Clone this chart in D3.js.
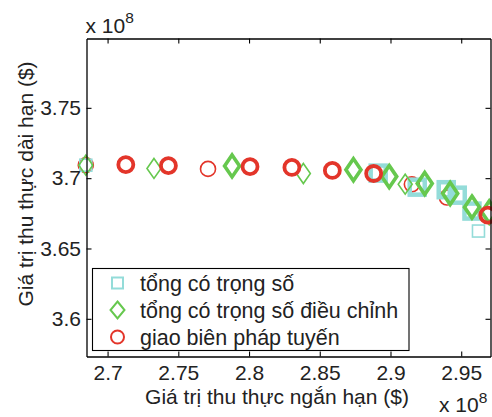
<!DOCTYPE html>
<html><head><meta charset="utf-8">
<script src="https://cdn.jsdelivr.net/npm/d3@7"></script>
<style>
html,body{margin:0;padding:0;background:#fff;}
svg{display:block;font-family:"Liberation Sans",Arial,sans-serif;}
</style></head>
<body>
<svg id="chart" width="492" height="417"></svg>
<script>
// Values in units of 1e8 $
const xTicks = [2.7, 2.75, 2.8, 2.85, 2.9, 2.95];
const yTicks = [3.6, 3.65, 3.7, 3.75];
const xDomain = [2.6851, 2.9707];
const yDomain = [3.5732, 3.7993];

// "tổng có trọng số" (weighted sum)
const wsThinX = [2.6846, 2.9622];
const wsThinY = [3.7092, 3.6624];
const wsBoldX = [2.8913, 2.9189, 2.9394, 2.9472, 2.9576];
const wsBoldY = [3.7036, 3.6936, 3.6918, 3.6879, 3.6766];

// "tổng có trọng số điều chỉnh" (adjusted weighted sum)
const awsThinX = [2.6846, 2.7328, 2.8384, 2.9104];
const awsThinY = [3.7092, 3.7069, 3.7033, 3.6957];
const awsBoldX = [2.7880, 2.8738, 2.8991, 2.9242, 2.9422, 2.9576, 2.9698];
const awsBoldY = [3.7087, 3.7060, 3.7011, 3.6962, 3.6891, 3.6794, 3.6759];

// "giao biên pháp tuyến" (normal boundary intersection)
const nbiThinX = [2.6846, 2.7710, 2.9151, 2.9399];
const nbiThinY = [3.7092, 3.7066, 3.6956, 3.6862];
const nbiBoldX = [2.7129, 2.7430, 2.8007, 2.8303, 2.8589, 2.8881, 2.9688];
const nbiBoldY = [3.7096, 3.7089, 3.7082, 3.7076, 3.7055, 3.7033, 3.6737];

const legendLabels = ["tổng có trọng số", "tổng có trọng số điều chỉnh", "giao biên pháp tuyến"];

(function () {
const RED = "#e3352a", GREEN = "#66c84e", CYAN = "#94dcd9";
const FONT = 21;

const svg = d3.select("#chart");
const m = {left: 86.5, right: 1.5, top: 38.5, bottom: 60.5};
const W = 492, H = 417;
const x = d3.scaleLinear().domain(xDomain).range([m.left, W - m.right]);
const y = d3.scaleLinear().domain(yDomain).range([H - m.bottom, m.top]);

const zip = (a, b) => a.map((v, i) => [v, b[i]]);

const plot = svg.append("g");

function squares(pts, half, sw) {
  plot.append("g").selectAll("rect").data(pts).join("rect")
    .attr("x", d => x(d[0]) - half).attr("y", d => y(d[1]) - half)
    .attr("width", half * 2).attr("height", half * 2)
    .attr("fill", "none").attr("stroke", CYAN).attr("stroke-width", sw);
}
function diamonds(pts, hw, hh, sw) {
  plot.append("g").selectAll("path").data(pts).join("path")
    .attr("d", d => { const cx = x(d[0]), cy = y(d[1]);
      return `M${cx},${cy - hh}L${cx + hw},${cy}L${cx},${cy + hh}L${cx - hw},${cy}Z`; })
    .attr("fill", "none").attr("stroke", GREEN).attr("stroke-width", sw).attr("stroke-linejoin", "miter");
}
function circles(pts, r, sw) {
  plot.append("g").selectAll("circle").data(pts).join("circle")
    .attr("cx", d => x(d[0])).attr("cy", d => y(d[1])).attr("r", r)
    .attr("fill", "none").attr("stroke", RED).attr("stroke-width", sw);
}

circles(zip(nbiThinX, nbiThinY), 7.5, 1.6);
squares(zip(wsThinX, wsThinY), 6, 1.6);
squares(zip(wsBoldX, wsBoldY), 7.5, 4.5);
diamonds(zip(awsThinX, awsThinY), 7, 10, 1.6);
diamonds(zip(awsBoldX, awsBoldY), 7.5, 11, 3.6);
circles(zip(nbiBoldX, nbiBoldY), 7.5, 3.8);

// Axes (box with inward ticks)
const axG = svg.append("g").attr("font-size", FONT);
axG.append("g").attr("transform", `translate(0,${H - m.bottom})`)
  .call(d3.axisBottom(x).tickValues(xTicks).tickFormat(d3.format("")).tickSizeInner(-5).tickSizeOuter(0).tickPadding(8.5));
axG.append("g").attr("transform", `translate(${m.left},0)`)
  .call(d3.axisLeft(y).tickValues(yTicks).tickFormat(d3.format("")).tickSizeInner(-5).tickSizeOuter(0).tickPadding(5.5));
axG.append("g").attr("transform", `translate(0,${m.top})`)
  .call(d3.axisTop(x).tickValues(xTicks).tickFormat("").tickSizeInner(-5).tickSizeOuter(0));
axG.append("g").attr("transform", `translate(${W - m.right},0)`)
  .call(d3.axisRight(y).tickValues(yTicks).tickFormat("").tickSizeInner(-5).tickSizeOuter(0));
axG.selectAll("text").attr("font-family", "Liberation Sans, Arial, sans-serif").attr("font-size", FONT).attr("fill", "#222");
axG.selectAll(".domain").attr("stroke", "#000").attr("stroke-width", 1.3);
axG.selectAll(".tick line").attr("stroke", "#000").attr("stroke-width", 1.1);

// Axis titles
svg.append("text").attr("x", 277).attr("y", 404).attr("text-anchor", "middle")
  .attr("font-size", FONT).attr("fill", "#222").text("Giá trị thu thực ngắn hạn ($)");
svg.append("text").attr("transform", "translate(33,184) rotate(-90)").attr("text-anchor", "middle")
  .attr("font-size", FONT).attr("fill", "#222").text("Giá trị thu thực dài hạn ($)");

// Exponent labels
function expLabel(xp, yp, ey) {
  const t = svg.append("text").attr("x", xp).attr("y", yp).attr("font-size", FONT).attr("fill", "#222");
  t.append("tspan").text("x 10");
  t.append("tspan").attr("font-size", 15.5).attr("dy", ey).text("8");
}
expLabel(85.5, 33, -10);
expLabel(439, 411.5, -9);

// Legend
const lg = svg.append("g");
lg.append("rect").attr("x", 92.5).attr("y", 268.5).attr("width", 316.5).attr("height", 82)
  .attr("fill", "#fff").attr("stroke", "#000").attr("stroke-width", 1.1);
const rowY = [283, 310, 337];
const mx = 117.5;
lg.append("rect").attr("x", mx - 5.5).attr("y", rowY[0] - 5.5).attr("width", 11).attr("height", 11)
  .attr("fill", "none").attr("stroke", CYAN).attr("stroke-width", 2);
lg.append("path").attr("d", `M${mx},${rowY[1] - 8.5}L${mx + 7},${rowY[1]}L${mx},${rowY[1] + 8.5}L${mx - 7},${rowY[1]}Z`)
  .attr("fill", "none").attr("stroke", GREEN).attr("stroke-width", 2);
lg.append("circle").attr("cx", mx).attr("cy", rowY[2]).attr("r", 6.5)
  .attr("fill", "none").attr("stroke", RED).attr("stroke-width", 2);
lg.selectAll("text.lt").data(legendLabels).join("text").attr("class", "lt")
  .attr("x", 140).attr("y", (d, i) => rowY[i] + 7.5)
  .attr("font-size", 21.5).attr("fill", "#222").text(d => d);
})();
</script>
</body></html>
